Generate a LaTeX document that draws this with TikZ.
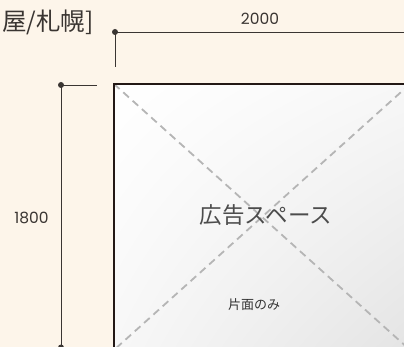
\documentclass[tikz,border=0pt]{standalone}
\usepackage{fontspec}
\usetikzlibrary{shadings}
\setmainfont{Poppins}
\newfontfamily\cjk{Noto Sans CJK JP}
\definecolor{bgcream}{HTML}{FDF5EA}
\definecolor{dimcol}{HTML}{3A3532}
\definecolor{boxline}{HTML}{231815}
\definecolor{dashcol}{HTML}{B5B5B5}
\definecolor{boxgray}{HTML}{E4E4E4}
\definecolor{titlecol}{HTML}{3A3532}
\tikzset{
  dimline/.style={draw=dimcol, line width=0.9pt},
  dimdot/.style={circle, fill=dimcol, inner sep=0pt, minimum size=6pt},
  dimtext/.style={font=\fontsize{15.5}{15.5}\selectfont, text=dimcol, inner sep=0pt},
  diag/.style={draw=dashcol, line width=1.8pt, dash pattern=on 7.5pt off 5pt},
}
\begin{document}
\begin{tikzpicture}[x=1pt,y=-1pt]
\useasboundingbox (0,0) rectangle (404,347);
\fill[bgcream] (0,0) rectangle (404,347);
% box
\coordinate (tl) at (114,84);
\coordinate (tr) at (410,84);
\coordinate (bl) at (114,350);
\coordinate (br) at (410,350);
\shade[upper left=white, upper right=white!97!black, lower left=white!97!black, lower right=boxgray] (tl) rectangle (br);
\draw[diag] (tl) -- (br);
\draw[diag] (tr) -- (bl);
\draw[draw=boxline, line width=2pt] (bl) -- (tl) -- (tr);
% title
\node[anchor=west, inner sep=0pt, text=titlecol, font=\cjk\fontsize{24.5}{24.5}\selectfont] (title) at (2,22) {屋/札幌]};
% top dimension
\node[dimdot] (td) at (115,32) {};
\coordinate (tdr) at (404,32);
\coordinate (tdt) at (115,67);
\draw[dimline] (td.center) -- (tdr);
\draw[dimline] (td.center) -- (tdt);
\node[dimtext] (w) at (260,18.5) {2000};
% left dimension
\node[dimdot] (ld) at (61,85) {};
\node[dimdot] (ldb) at (61,347.5) {};
\coordinate (ldr) at (97,85);
\draw[dimline] (ld.center) -- (ldb.center);
\draw[dimline] (ld.center) -- (ldr);
\node[dimtext] (h) at (31.5,218) {1800};
% texts in box
\node[inner sep=0pt, text=black!70, font=\cjk\fontsize{22.5}{22.5}\selectfont] (ad) at (266,215) {広告スペース};
\node[inner sep=0pt, text=black!80, font=\cjk\fontsize{13}{13}\selectfont] (one) at (254,305) {片面のみ};
\end{tikzpicture}
\end{document}
